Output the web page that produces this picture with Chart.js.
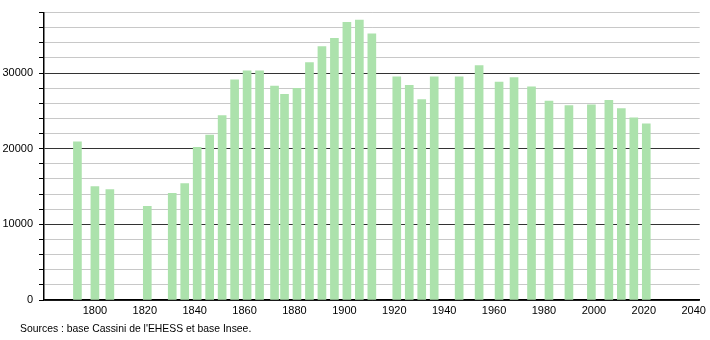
<!DOCTYPE html>
<html>
<head>
<meta charset="utf-8">
<script src="https://cdn.jsdelivr.net/npm/chart.js@4.4.1/dist/chart.umd.min.js"></script>
<style>
  html, body { margin: 0; padding: 0; background: #fff; }
  #wrap { position: relative; width: 710px; height: 340px; }
  #source {
    position: absolute; left: 20px; top: 323px;
    font-family: "Liberation Sans", Arial, sans-serif; font-size: 10.4px; color: #000;
  }
</style>
</head>
<body>
<div id="wrap">
  <canvas id="chart" width="710" height="340"></canvas>
  <div id="source">Sources : base Cassini de l'EHESS et base Insee.</div>
</div>
<script>
// census years and population
const years = [1793, 1800, 1806, 1821, 1831, 1836, 1841, 1846, 1851, 1856, 1861, 1866,
  1872, 1876, 1881, 1886, 1891, 1896, 1901, 1906, 1911, 1921, 1926, 1931, 1936, 1946,
  1954, 1962, 1968, 1975, 1982, 1990, 1999, 2006, 2011, 2016, 2021];
const population = [20900, 15000, 14600, 12400, 14100, 15400, 20200, 21800, 24400, 29100,
  30300, 30300, 28300, 27200, 28000, 31400, 33500, 34600, 36700, 37000, 35200, 29500,
  28400, 26500, 29500, 29500, 31000, 28800, 29400, 28200, 26300, 25700, 25800, 26400,
  25300, 24100, 23300];
const xTicks = [1800, 1820, 1840, 1860, 1880, 1900, 1920, 1940, 1960, 1980, 2000, 2020, 2040];
const yLabels = [0, 10000, 20000, 30000];
const yGrid = [];
for (let v = 0; v <= 38000; v += 2000) yGrid.push(v);

const points = years.map((y, i) => ({ x: y, y: population[i] }));
const font = { family: "'Liberation Sans', Arial, sans-serif", size: 11 };

new Chart(document.getElementById("chart"), {
  type: "bar",
  data: {
    datasets: [{
      data: points,
      backgroundColor: "rgb(172,226,172)",
      borderWidth: 0,
      barThickness: 8
    }]
  },
  options: {
    responsive: false,
    animation: false,
    layout: { padding: { top: 11, right: 9, left: 0, bottom: 0 } },
    plugins: { legend: { display: false }, tooltip: { enabled: false } },
    scales: {
      x: {
        type: "linear",
        offset: false,
        min: 1779.6,
        max: 2042.4,
        afterBuildTicks: (scale) => { scale.ticks = xTicks.map(v => ({ value: v })); },
        afterFit: (scale) => { scale.height = 40; },
        grid: { display: false, drawTicks: false },
        border: { color: "#000", width: 1.5 },
        ticks: {
          color: "#000", font: font, padding: 4, maxRotation: 0, autoSkip: false,
          callback: (v) => String(v)
        }
      },
      y: {
        min: 0,
        max: 38000,
        afterBuildTicks: (scale) => { scale.ticks = yGrid.map(v => ({ value: v })); },
        afterFit: (scale) => { scale.width = 44; },
        ticks: {
          color: "#000",
          font: font,
          padding: 6,
          autoSkip: false,
          callback: (v) => yLabels.includes(v) ? String(v) : ""
        },
        grid: {
          color: (ctx) => ctx.tick && ctx.tick.value % 10000 === 0 ? "#333" : "#c8c8c8",
          tickColor: "#000",
          tickLength: 5,
          lineWidth: 1
        },
        border: { color: "#000", width: 1.5 }
      }
    }
  }
});
</script>
</body>
</html>
